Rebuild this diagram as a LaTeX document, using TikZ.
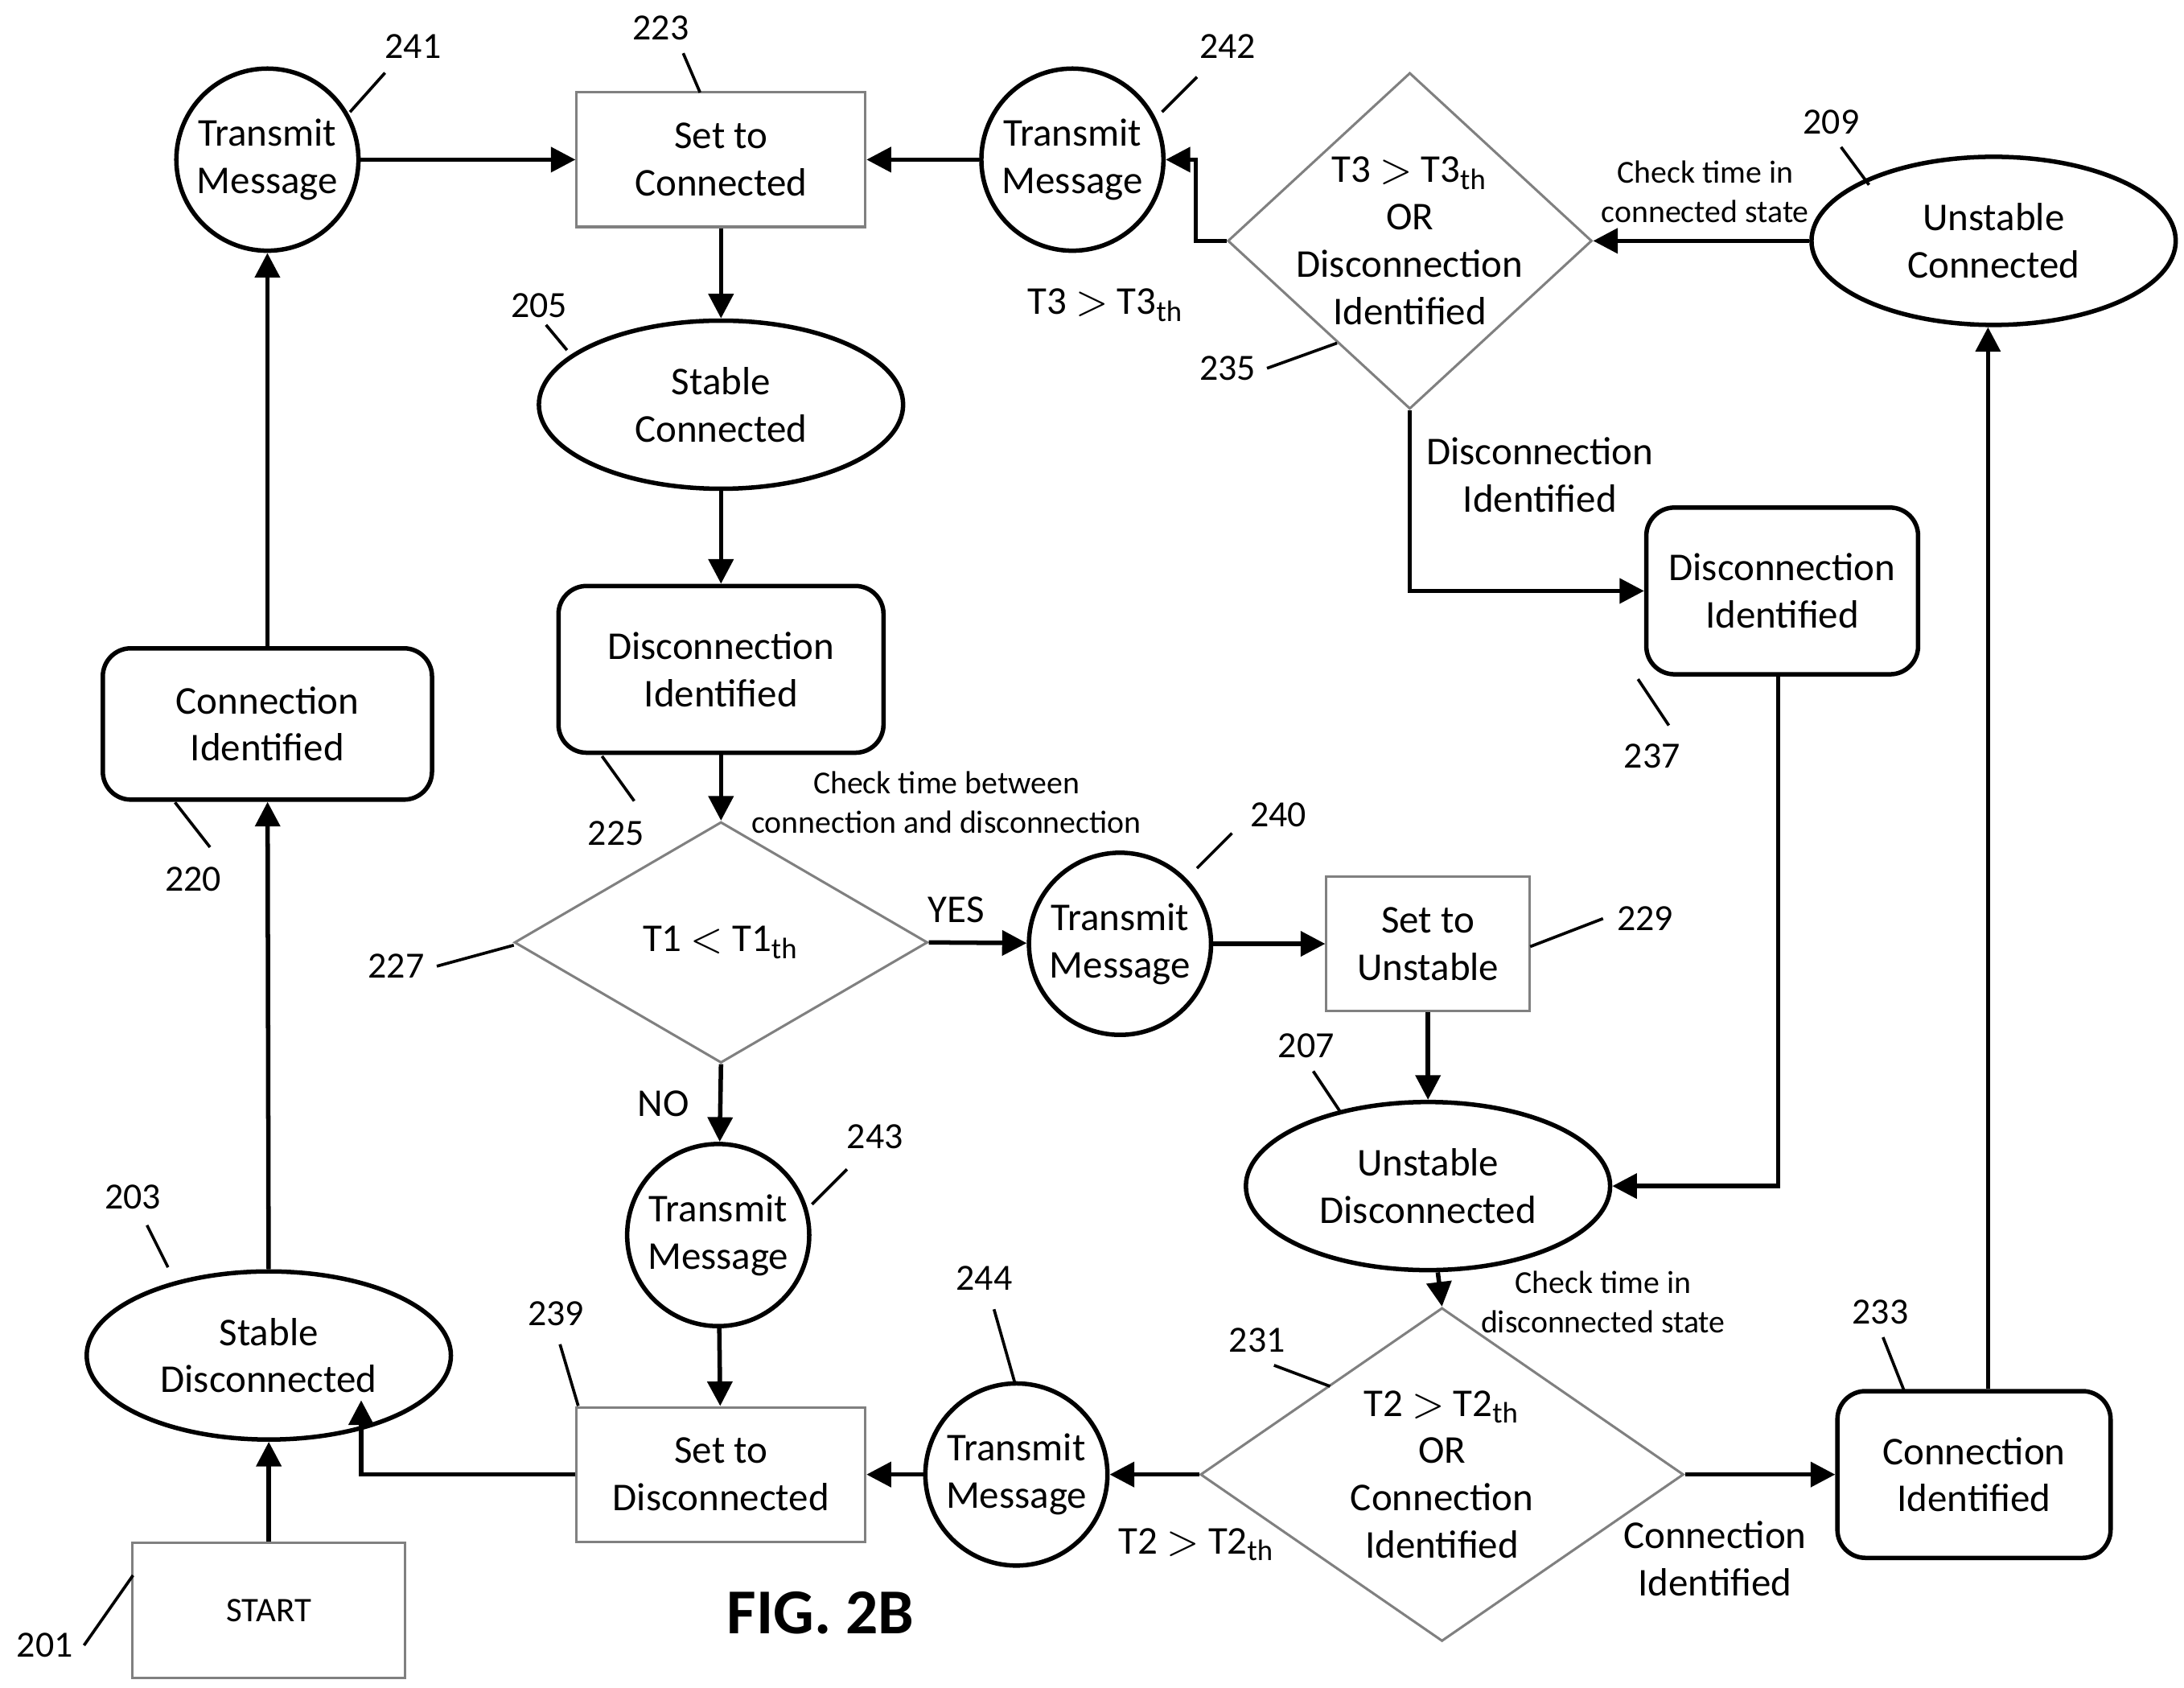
\documentclass[tikz,border=0pt]{standalone}
\usepackage{fontspec}
\setmainfont{Carlito}
\usetikzlibrary{shapes.geometric,arrows.meta}
\tikzset{
  every node/.style={font=\fontsize{8}{9.6}\selectfont, align=center},
  box/.style={draw=gray, line width=0.5pt, minimum width=2.06cm, minimum height=0.96cm},
  state/.style={draw, ellipse, line width=0.9pt, minimum width=2.6cm, minimum height=1.2cm},
  event/.style={draw, rounded corners=0.2cm, line width=0.9pt},
  msg/.style={draw, circle, line width=0.9pt, minimum size=1.3cm, inner sep=0pt},
  test/.style={draw=gray, diamond, line width=0.5pt, inner sep=0pt},
  flow/.style={line width=0.9pt, -{Triangle[length=5pt,width=5pt]}},
  tag/.style={font=\fontsize{7.5}{9}\selectfont},
  note/.style={font=\fontsize{6.5}{8}\selectfont},
  lead/.style={line width=0.6pt}
}
\newcommand{\refnum}[4]{%
  \node[tag] (#1) at (#4) {#1};
  \draw[lead] (#2) .. controls ($(#2)!0.5!(#3)+(0.08,0.08)$) and ($(#2)!0.5!(#3)-(0.08,0.08)$) .. (#3);}
\usetikzlibrary{calc}
\begin{document}
\begin{tikzpicture}[x=0.01cm, y=-0.01cm]
\useasboundingbox (0,0) rectangle (1560,1205);
% left column
\node[box, minimum width=1.95cm] (start) at (192,1150) {\fontsize{7}{8}\selectfont START};
\node[state] (sdis) at (192,968) {Stable\\Disconnected};
\node[event, minimum width=2.35cm, minimum height=1.08cm] (cid1) at (191,517) {Connection\\Identified};
\node[msg] (tm241) at (191,114) {Transmit\\Message};
% top row
\node[box] (setcon) at (515,114) {Set to\\Connected};
\node[msg] (tm242) at (766,114) {Transmit\\Message};
\node[test, minimum width=2.6cm, minimum height=2.4cm,
      label=center:{T3 $>$ T3\textsubscript{th}\\OR\\Disconnection\\Identified}] (d235) at (1007,172) {};
\node[state] (ucon) at (1424,172) {Unstable\\Connected};
% middle column
\node[state] (scon) at (515,289) {Stable\\Connected};
\node[event, minimum width=2.32cm, minimum height=1.19cm] (did1) at (515,478) {Disconnection\\Identified};
\node[test, minimum width=2.95cm, minimum height=1.72cm,
      label=center:{T1 $<$ T1\textsubscript{th}}] (d227) at (515,673) {};
\node[msg] (tm240) at (800,674) {Transmit\\Message};
\node[box, minimum width=1.45cm] (setuns) at (1020,674) {Set to\\Unstable};
\node[event, minimum width=1.94cm, minimum height=1.19cm] (did2) at (1273,422) {Disconnection\\Identified};
\node[state] (udis) at (1020,847) {Unstable\\Disconnected};
\node[test, minimum width=3.45cm, minimum height=2.38cm,
      label=center:{T2 $>$ T2\textsubscript{th}\\OR\\Connection\\Identified}] (d231) at (1030,1053) {};
\node[event, minimum width=1.95cm, minimum height=1.19cm] (cid2) at (1410,1053) {Connection\\Identified};
\node[msg] (tm244) at (726,1053) {Transmit\\Message};
\node[box] (setdis) at (515,1053) {Set to\\Disconnected};
\node[msg] (tm243) at (513,882) {Transmit\\Message};
\node[font=\fontsize{13}{15}\bfseries\selectfont] (fig) at (586,1152) {FIG. 2B};

% connectors
\draw[flow] (start) -- (sdis);
\draw[flow] (sdis) -- (cid1);
\draw[flow] (cid1) -- (tm241);
\draw[flow] (tm241) -- (setcon);
\draw[flow] (tm242) -- (setcon);
\draw[flow] (d235.west) -- ++(-22,0) |- (tm242.east);
\draw[flow] (ucon) -- (d235.east);
\draw[flow] (d235.south) |- (did2.west);
\draw[flow] (setcon) -- (scon);
\draw[flow] (scon) -- (did1);
\draw[flow] (did1) -- (d227.north);
\draw[flow] (d227.east) -- (tm240);
\draw[flow] (tm240) -- (setuns);
\draw[flow] (setuns) -- (udis);
\draw[flow] (did2.south -| 1270,0) |- (udis.east);
\draw[flow] (udis.south -| 1027,0) -- (d231.north);
\draw[flow] (d231.east) -- (cid2);
\draw[flow] (cid2.north -| 1420,0) -- (ucon.south -| 1420,0);
\draw[flow] (d231.west) -- (tm244);
\draw[flow] (tm244) -- (setdis);
\draw[flow] (d227.south) -- (tm243);
\draw[flow] (tm243) -- (setdis);
\draw[flow] (setdis.west) -| (258,1000);

% edge texts
\node (t3) at (790,218) {T3 $>$ T3\textsubscript{th}};
\node[note] (chk209) at (1218,137) {Check time in\\connected state};
\node (dis235) at (1100,339) {Disconnection\\Identified};
\node[note] (chk225) at (676,573) {Check time between\\connection and disconnection};
\node (yes) at (683,650) {YES};
\node (no) at (474,788) {NO};
\node[note] (chk207) at (1145,930) {Check time in\\disconnected state};
\node (con231) at (1225,1113) {Connection\\Identified};
\node (t2) at (855,1103) {T2 $>$ T2\textsubscript{th}};

% reference numbers
\refnum{241}{250,80}{275,52}{295,33}
\refnum{223}{500,66}{488,38}{472,20}
\refnum{242}{830,80}{855,55}{877,33}
\refnum{209}{1335,132}{1315,105}{1308,87}
\refnum{205}{405,250}{390,232}{385,218}
\refnum{235}{955,245}{905,263}{877,263}
\refnum{237}{1192,518}{1170,485}{1180,540}
\refnum{225}{453,572}{430,540}{440,595}
\refnum{220}{150,605}{125,573}{138,628}
\refnum{240}{855,620}{880,595}{913,582}
\refnum{229}{1093,676}{1145,656}{1175,656}
\refnum{227}{312,690}{367,675}{283,690}
\refnum{207}{958,795}{938,765}{933,747}
\refnum{243}{580,860}{605,835}{625,812}
\refnum{203}{120,905}{105,875}{95,855}
\refnum{239}{413,1004}{400,960}{397,938}
\refnum{244}{725,988}{710,935}{703,913}
\refnum{231}{950,990}{910,975}{898,957}
\refnum{233}{1360,993}{1345,955}{1343,937}
\refnum{201}{60,1175}{95,1125}{32,1175}
\end{tikzpicture}
\end{document}
